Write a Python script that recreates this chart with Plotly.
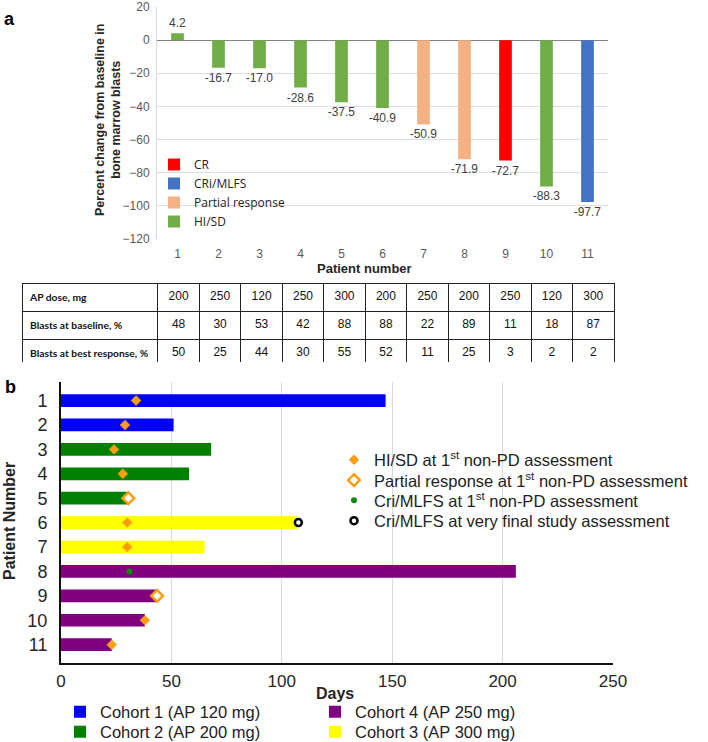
import plotly.graph_objects as go

W, H = 708, 742

# ---------------- Panel a data ----------------
patients = list(range(1, 12))
pct_change = [4.2, -16.7, -17.0, -28.6, -37.5, -40.9, -50.9, -71.9, -72.7, -88.3, -97.7]
response = ["HI/SD", "HI/SD", "HI/SD", "HI/SD", "HI/SD", "HI/SD",
            "Partial response", "Partial response", "CR", "HI/SD", "CRi/MLFS"]
response_order = ["CR", "CRi/MLFS", "Partial response", "HI/SD"]
response_colors = {"CR": "#FF0000", "CRi/MLFS": "#4472C4",
                   "Partial response": "#F4B183", "HI/SD": "#70AD47"}
y_ticks_a = [-120, -100, -80, -60, -40, -20, 0, 20]

table_labels = ["AP dose, mg", "Blasts at baseline, %", "Blasts at best response, %"]
ap_dose = [200, 250, 120, 250, 300, 200, 250, 200, 250, 120, 300]
blasts_baseline = [48, 30, 53, 42, 88, 88, 22, 89, 11, 18, 87]
blasts_best = [50, 25, 44, 30, 55, 52, 11, 25, 3, 2, 2]

# ---------------- Panel b data ----------------
days_on_study = [147, 51, 68, 58, 30, 107, 65, 206, 43, 38, 23]
patient_cohort = [1, 1, 2, 2, 2, 3, 3, 4, 4, 4, 4]
cohort_names = {1: "Cohort 1 (AP 120 mg)", 2: "Cohort 2 (AP 200 mg)",
                3: "Cohort 3 (AP 300 mg)", 4: "Cohort 4 (AP 250 mg)"}
cohort_colors = {1: "#0000FF", 2: "#008000", 3: "#FFFF00", 4: "#800080"}
x_ticks_b = [0, 50, 100, 150, 200, 250]

hisd_patients = [1, 2, 3, 4, 6, 7, 10, 11]
hisd_days = [34, 29, 24, 28, 30, 30, 38, 23]
pr_patients = [5, 9]
pr_days = [30.5, 43.5]
cri_first_patients = [8]
cri_first_days = [31]
cri_final_patients = [6]
cri_final_days = [107.5]

ORANGE = "#F99D12"

fig = go.Figure()

# Panel a bars
for cat in response_order:
    xs = [p for p, r in zip(patients, response) if r == cat]
    ys = [v for v, r in zip(pct_change, response) if r == cat]
    fig.add_trace(go.Bar(
        x=xs, y=ys, name=cat, marker=dict(color=response_colors[cat], line=dict(width=0)),
        width=0.31, text=[f"{v:.1f}" for v in ys], textposition="outside",
        constraintext="none",
        textfont=dict(size=12, color="#404040"), cliponaxis=False,
        xaxis="x", yaxis="y", legend="legend"))

# Table
label_font = "Lato"
num_font = "Liberation Sans"
nb = lambda s: "<b>" + s.replace(" ", "\u00a0") + "</b>"
fig.add_trace(go.Table(
    domain=dict(x=[22 / W, 614 / W], y=[1 - 362 / H, 1 - 283 / H]),
    columnwidth=[136] + [41.5] * 11,
    header=dict(
        values=[nb(table_labels[0])] + [str(v) for v in ap_dose],
        align=["left"] + ["center"] * 11,
        line=dict(color="#222222", width=1), fill_color="white", height=23.5,
        font=dict(family=[label_font] + [num_font] * 11, size=[10.3] + [12] * 11, color="#111111")),
    cells=dict(
        values=[[nb(table_labels[1]), nb(table_labels[2])]] +
               [[str(b), str(c)] for b, c in zip(blasts_baseline, blasts_best)],
        align=["left"] + ["center"] * 11,
        line=dict(color="#222222", width=1), fill_color="white", height=23.5,
        font=dict(family=[label_font] + [num_font] * 11, size=[10.3] + [12] * 11, color="#111111"))
))

# Panel b bars (one legend box per cohort entry)
cohort_order = [1, 2, 4, 3]
cohort_legend = {1: "legend2", 2: "legend3", 4: "legend4", 3: "legend5"}
for c in cohort_order:
    ys = [p for p, k in zip(patients, patient_cohort) if k == c]
    xs = [d for d, k in zip(days_on_study, patient_cohort) if k == c]
    fig.add_trace(go.Bar(
        x=xs, y=ys, orientation="h", name=cohort_names[c],
        marker=dict(color=cohort_colors[c], line=dict(width=0)), width=0.52,
        xaxis="x2", yaxis="y2", legend=cohort_legend[c]))

# Panel b markers
fig.add_trace(go.Scatter(
    x=hisd_days, y=hisd_patients, mode="markers",
    name="HI/SD at 1<sup>st</sup> non-PD assessment",
    marker=dict(symbol="diamond", size=8, color=ORANGE, line=dict(width=0)),
    xaxis="x2", yaxis="y2", legend="legend6"))
fig.add_trace(go.Scatter(
    x=pr_days, y=pr_patients, mode="markers",
    name="Partial response at 1<sup>st</sup> non-PD assessment",
    marker=dict(symbol="diamond", size=9, color="white", line=dict(width=2.5, color=ORANGE)),
    xaxis="x2", yaxis="y2", legend="legend7"))
fig.add_trace(go.Scatter(
    x=cri_first_days, y=cri_first_patients, mode="markers",
    name="Cri/MLFS at 1<sup>st</sup> non-PD assessment",
    marker=dict(symbol="circle", size=6, color="#0A8A0A", line=dict(width=0)),
    xaxis="x2", yaxis="y2", legend="legend8"))
fig.add_trace(go.Scatter(
    x=cri_final_days, y=cri_final_patients, mode="markers",
    name="Cri/MLFS at very final study assessment",
    marker=dict(symbol="circle", size=7, color="white", line=dict(width=2.5, color="black")),
    xaxis="x2", yaxis="y2", legend="legend9"))

legend_common = dict(xanchor="left", bgcolor="rgba(0,0,0,0)",
                     borderwidth=0, tracegroupgap=0, itemwidth=30)
big_font = dict(size=16.5, color="#222222")


def one_legend(x_px, y_px):
    return dict(x=x_px / W, y=1 - y_px / H, yanchor="middle", font=big_font, **legend_common)


def ann(text, x_px, y_px, size, angle=0, color="#262626"):
    return dict(text=text, x=x_px / W, y=1 - y_px / H, xref="paper", yref="paper",
                xanchor="center", yanchor="middle", textangle=angle, showarrow=False,
                font=dict(size=size, color=color))


fig.update_layout(
    width=W, height=H, margin=dict(l=0, r=0, t=0, b=0, autoexpand=False),
    paper_bgcolor="white", plot_bgcolor="white",
    font=dict(family="Liberation Sans", color="#222222"),
    barmode="overlay",
    xaxis=dict(domain=[157 / W, 608 / W], range=[0.5, 11.5], anchor="y", automargin=False,
               tickvals=patients, tickfont=dict(size=12, color="#595959"),
               showgrid=False, zeroline=False, showline=False, ticks="",
               ticklabelstandoff=6),
    yaxis=dict(domain=[1 - 239 / H, 1 - 6.5 / H], range=[-120, 20.3], anchor="x", automargin=False,
               tickvals=y_ticks_a, tickfont=dict(size=12, color="#595959"),
               showgrid=True, gridcolor="#DDDDDD", gridwidth=1,
               zeroline=True, zerolinecolor="#808080", zerolinewidth=1.3,
               showline=True, linecolor="#D9D9D9", linewidth=1, ticks="",
               ticklabelstandoff=4, ticklabeloverflow="allow"),
    xaxis2=dict(domain=[61 / W, 613 / W], range=[0, 250], anchor="y2", automargin=False,
                tickvals=x_ticks_b, tickfont=dict(size=17, color="#262626"),
                showgrid=True, gridcolor="#D9D9D9", gridwidth=1, zeroline=False,
                showline=True, linecolor="#111111", linewidth=2, ticks="",
                ticklabelstandoff=2),
    yaxis2=dict(domain=[1 - 663 / H, 1 - 382 / H], range=[11.75, 0.24], anchor="x2",
                automargin=False,
                tickvals=patients, tickfont=dict(size=18, color="#262626"),
                showgrid=False, zeroline=False,
                showline=True, linecolor="#111111", linewidth=2, ticks="",
                ticklabelstandoff=8),
    legend=dict(x=154 / W, y=1 - 150 / H, yanchor="top",
                font=dict(family="Open Sans", size=12, color="#222222"), **legend_common),
    legend2=one_legend(60, 712),
    legend3=one_legend(60, 732),
    legend4=one_legend(315, 712),
    legend5=one_legend(315, 732),
    legend6=one_legend(334, 460),
    legend7=one_legend(334, 480.5),
    legend8=one_legend(334, 500.5),
    legend9=one_legend(334, 521),
    annotations=[
        ann("<b>a</b>", 9, 19, 18, color="black"),
        ann("<b>b</b>", 10, 387, 18, color="black"),
        ann("<b>Percent change from baseline in<br>bone marrow blasts</b>", 108, 120, 12.5, -90),
        ann("<b>Patient number</b>", 364, 269, 13),
        ann("<b>Patient Number</b>", 9, 521, 16, -90),
        ann("<b>Days</b>", 335, 693, 16),
    ],
)

fig.write_html("out.html", config={"displayModeBar": False},
               post_script="document.body.style.margin='0px';")
